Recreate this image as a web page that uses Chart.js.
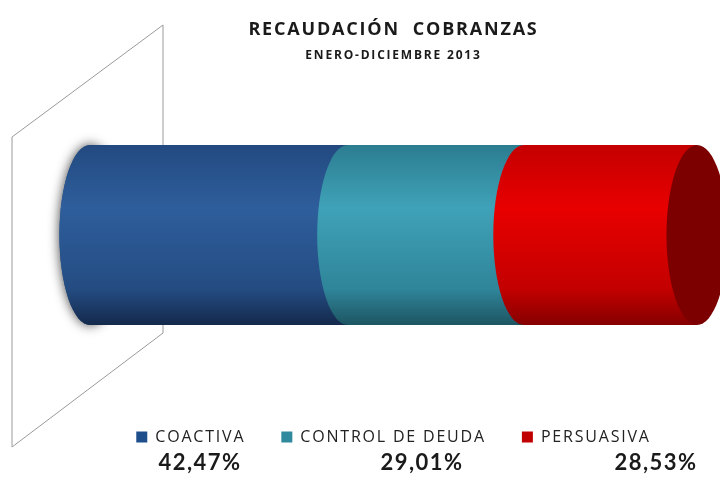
<!DOCTYPE html>
<html>
<head>
<meta charset="utf-8">
<script src="https://cdn.jsdelivr.net/npm/chart.js@4.4.1/dist/chart.umd.min.js"></script>
<style>
  html, body { margin: 0; padding: 0; background: #fff; }
  #wrap { width: 720px; height: 484px; }
</style>
</head>
<body>
<div id="wrap"><canvas id="cobranzasChart"></canvas></div>
<script>
const categories = ['Recaudación'];
const seriesNames = ['COACTIVA', 'CONTROL DE DEUDA', 'PERSUASIVA'];
const seriesValues = [42.47, 29.01, 28.53];
const axisTicks = [0, 100];

// colores por serie: [arriba, brillo, medio, abajo]
const shades = [
  ['#234a80', '#2e5e9c', '#244c82', '#14294c'],
  ['#2c7d90', '#3fa2b8', '#2f8599', '#1d5562'],
  ['#c40000', '#e80000', '#c30000', '#850000']
];
const legendColors = ['#1f4e8c', '#31899e', '#c00000'];

const fmt = v => v.toFixed(2).replace('.', ',') + '%';

// el texto original es más ancho: espaciado de letras en todo el lienzo
const spacingPlugin = {
  id: 'spacing',
  beforeLayout(chart) { chart.ctx.letterSpacing = '1.8px'; },
  beforeDraw(chart) { chart.ctx.letterSpacing = '1.8px'; }
};

const cylinderPlugin = {
  id: 'cylinder',
  beforeDatasetsDraw(chart) {
    const ctx = chart.ctx;
    const left = chart.chartArea.left;

    // pared lateral
    ctx.save();
    ctx.strokeStyle = '#9a9a9a';
    ctx.lineWidth = 1;
    ctx.beginPath();
    ctx.moveTo(left - 78, 137);
    ctx.lineTo(left + 73, 25);
    ctx.lineTo(left + 73, 333);
    ctx.lineTo(left - 78, 447);
    ctx.closePath();
    ctx.stroke();
    ctx.restore();

    const metas = chart.getSortedVisibleDatasetMetas();
    metas.forEach((meta, i) => {
      const bar = meta.data[0];
      const p = bar.getProps(['x', 'y', 'base', 'height'], true);
      const h = p.height, top = p.y - h / 2, bottom = p.y + h / 2;
      const rx = h * 0.17, ry = h / 2;
      const c = shades[i];
      const g = ctx.createLinearGradient(0, top, 0, bottom);
      g.addColorStop(0, c[0]);
      g.addColorStop(0.35, c[1]);
      g.addColorStop(0.8, c[2]);
      g.addColorStop(1, c[3]);

      if (i === 0) {
        ctx.save();
        ctx.shadowColor = 'rgba(0,0,0,0.75)';
        ctx.shadowBlur = 12;
        ctx.fillStyle = c[2];
        ctx.beginPath();
        ctx.ellipse(p.base, p.y, rx, ry, 0, 0, Math.PI * 2);
        ctx.fill();
        ctx.restore();
      }

      ctx.save();
      ctx.fillStyle = g;
      ctx.beginPath();
      ctx.moveTo(p.base, top);
      ctx.lineTo(p.x, top);
      ctx.lineTo(p.x, bottom);
      ctx.lineTo(p.base, bottom);
      ctx.ellipse(p.base, p.y, rx, ry, 0, Math.PI / 2, Math.PI * 1.5);
      ctx.closePath();
      ctx.fill();

      if (i === metas.length - 1) {
        ctx.fillStyle = '#7d0000';
        ctx.beginPath();
        ctx.ellipse(p.x, p.y, rx, ry, 0, 0, Math.PI * 2);
        ctx.fill();
      }
      ctx.restore();
    });
    return false;
  },
  afterDraw(chart, args, opts) {
    const ctx = chart.ctx;
    ctx.save();
    ctx.letterSpacing = '1.5px';
    ctx.font = 'bold 22px Lato';
    ctx.fillStyle = '#1a1a1a';
    ctx.textAlign = 'center';
    ctx.textBaseline = 'middle';
    seriesValues.forEach((v, i) => {
      ctx.fillText(fmt(v), opts.xs[i], opts.y);
    });
    ctx.restore();
  }
};

new Chart(document.getElementById('cobranzasChart'), {
  type: 'bar',
  data: {
    labels: categories,
    datasets: seriesNames.map((name, i) => ({
      label: name,
      data: [seriesValues[i]],
      backgroundColor: legendColors[i],
      barThickness: 180
    }))
  },
  options: {
    indexAxis: 'y',
    responsive: true,
    maintainAspectRatio: false,
    animation: false,
    layout: { padding: { left: 90, right: 23, top: 0, bottom: 29 } },
    scales: {
      x: { stacked: true, min: axisTicks[0], max: axisTicks[1], display: false },
      y: { stacked: true, display: false }
    },
    plugins: {
      title: {
        display: true,
        fullSize: false,
        text: 'RECAUDACIÓN  COBRANZAS',
        color: '#1a1a1a',
        font: { family: 'Open Sans', size: 18, weight: 'bold' },
        padding: { top: 19, bottom: 8 }
      },
      subtitle: {
        display: true,
        fullSize: false,
        text: 'ENERO-DICIEMBRE 2013',
        color: '#1a1a1a',
        font: { family: 'Open Sans', size: 12, weight: 'bold' },
        padding: { top: 0, bottom: 14 }
      },
      legend: {
        position: 'bottom',
        fullSize: false,
        labels: {
          boxWidth: 11,
          boxHeight: 11,
          padding: 36,
          color: '#222',
          font: { family: 'Open Sans', size: 16 }
        }
      },
      tooltip: { enabled: false },
      cylinder: { xs: [200, 422, 656], y: 463 }
    }
  },
  plugins: [spacingPlugin, cylinderPlugin]
});
</script>
</body>
</html>
